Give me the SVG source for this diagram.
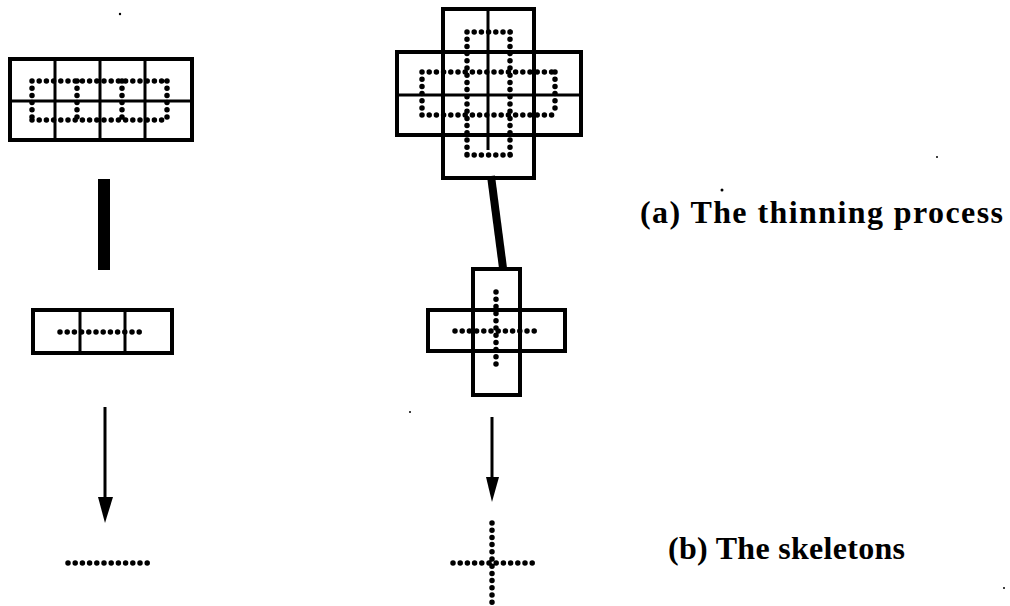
<svg xmlns="http://www.w3.org/2000/svg" width="1010" height="606" viewBox="0 0 1010 606">
<style>
.box{fill:none;stroke:#000;stroke-width:4}
.div{stroke:#000;stroke-width:3}
.dots{fill:none;stroke:#000;stroke-width:5.5;stroke-linecap:round;stroke-dasharray:0 7.2}
.arrow{stroke:#000;stroke-width:3}
.lbl{font-family:"Liberation Serif","Times New Roman",serif;font-weight:bold;font-size:32px;fill:#000}
</style>
<rect width="1010" height="606" fill="#fff"/>
<g id="grid-left-top">
<rect class="box" x="10" y="59" width="182" height="81"/>
<line class="div" x1="10" y1="101" x2="192" y2="101"/>
<line class="div" x1="55" y1="59" x2="55" y2="140"/>
<line class="div" x1="100" y1="59" x2="100" y2="140"/>
<line class="div" x1="145" y1="59" x2="145" y2="140"/>
<path class="dots" d="M32 81H168M32 120H168M32 81V120M77 81V120M122 81V120M167 81V120"/>
</g>
<g id="grid-right-top">
<rect class="box" x="443" y="9" width="91" height="169"/>
<rect class="box" x="397" y="52" width="184" height="83"/>
<line class="div" x1="397" y1="95" x2="581" y2="95"/>
<line class="div" x1="488" y1="9" x2="488" y2="150"/>
<path class="dots" d="M467 32H511M467 155H511M422 72H556M422 115H556M467 32V155M510 32V155M422 72V115M555 72V115"/>
</g>
<g id="box-left-mid">
<rect class="box" x="33" y="310" width="139" height="43"/>
<line class="div" x1="80" y1="310" x2="80" y2="353"/>
<line class="div" x1="125" y1="310" x2="125" y2="353"/>
<path class="dots" d="M60 332H145"/>
</g>
<g id="cross-right-mid">
<rect class="box" x="473" y="269" width="47" height="126"/>
<rect class="box" x="428" y="310" width="137" height="41"/>
<path class="dots" d="M496 292V371M455 331H537"/>
</g>
<g id="skeleton-left">
<path class="dots" d="M68 563H151"/>
</g>
<g id="skeleton-right">
<path class="dots" d="M492 523V603M453 563H536"/>
</g>
<g id="connectors">
<rect x="98" y="179" width="12" height="91" fill="#000"/>
<line x1="491" y1="176" x2="503" y2="268" stroke="#000" stroke-width="8"/>
<line class="arrow" x1="105" y1="407" x2="105" y2="500"/>
<polygon points="98,497 113,497 105,523" fill="#000"/>
<line class="arrow" x1="492" y1="417" x2="492" y2="480"/>
<polygon points="486,477 499,477 492,502" fill="#000"/>
</g>
<g id="labels">
<text class="lbl" x="640" y="223" textLength="363" lengthAdjust="spacing">(a) The thinning process</text>
<text class="lbl" x="668" y="559" textLength="237" lengthAdjust="spacing">(b) The skeletons</text>
</g>
<g id="specks" fill="#000">
<circle cx="120" cy="14" r="1.2"/>
<circle cx="722" cy="190" r="1.5"/>
<circle cx="937" cy="157" r="1"/>
<circle cx="410" cy="412" r="1"/>
<circle cx="1004" cy="588" r="1"/>
</g>
</svg>
